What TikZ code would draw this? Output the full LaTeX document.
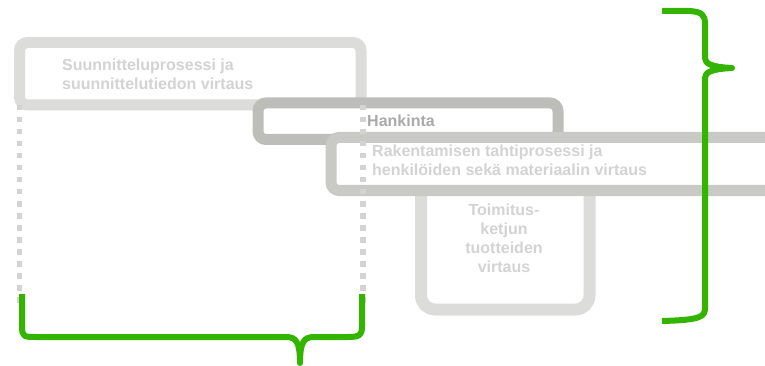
\documentclass[tikz,border=0pt]{standalone}
\usepackage{fontspec}
\setmainfont{Liberation Sans}

\definecolor{lightframe}{HTML}{DCDCDA}
\definecolor{midframe}{HTML}{C9C9C5}
\definecolor{darkframe}{HTML}{BDBDB9}
\definecolor{paletext}{HTML}{D3D3D3}
\definecolor{greytext}{HTML}{A9A9A9}
\definecolor{bracegreen}{HTML}{33B500}

\begin{document}
\begin{tikzpicture}[x=1pt, y=-1pt,
    frame/.style={draw=#1, fill=white, line width=11pt, rounded corners=8pt, inner sep=0pt, outer sep=0pt},
    caption/.style={font=\fontsize{16}{19}\selectfont\bfseries, text=paletext, inner sep=0pt},
    dots/.style={draw=paletext, line width=5.5pt, dash pattern=on 5.5pt off 6.5pt},
    greenbrace/.style={draw=bracegreen, line width=6pt, line join=round}]
    \clip (0,0) rectangle (765,366);

    % The four process frames (the lower ones are drawn first)
    \node[frame=lightframe, minimum width=341.5pt, minimum height=62.5pt] (planning) at (190.25,73.75) {};
    \node[frame=darkframe, minimum width=300pt, minimum height=36.5pt] (procurement) at (408,121.25) {};
    \node[frame=lightframe, line width=12pt, rounded corners=14pt, minimum width=168.5pt, minimum height=144.5pt] (supply) at (505.25,237.25) {}; % top hidden below the next one
    \node[frame=midframe, minimum width=569pt, minimum height=53pt] (construction) at (615.5,164) {};

    % Texts in the frames (base = baseline of the last line)
    \node[caption, align=left, anchor=base west] (planningtext) at (62,90) {Suunnitteluprosessi ja\\suunnittelutiedon virtaus};
    \node[caption, text=greytext, anchor=base west] (procurementtext) at (367,127) {Hankinta};
    \node[caption, align=left, anchor=base west] (constructiontext) at (372,176) {Rakentamisen tahtiprosessi ja\\henkilöiden sekä materiaalin virtaus};
    \node[caption, align=center, anchor=base] (supplytext) at (504,272) {Toimitus-\\ketjun\\tuotteiden\\virtaus};

    % Ends of the braces
    \coordinate (lowleft) at (22,294);
    \coordinate (lowright) at (362,294);
    \coordinate (lowtip) at (300,363);
    \coordinate (sidetop) at (662,11);
    \coordinate (sidebottom) at (662,321);
    \coordinate (sidetip) at (732,68);

    % Dotted guides from the planning frame down to the brace
    \draw[dots] (planning.south west) -- ([yshift=-12pt]planning.south west |- lowleft);
    \draw[dots] ([xshift=2pt]planning.south east) -- ([xshift=2pt,yshift=-12pt]planning.south east |- lowright);

    % Bottom brace
    \draw[greenbrace] (lowleft) -- (22,326) .. controls (22,337) and (24,337) .. (36,337)
        -- (286,337) .. controls (296,337) and (300,342) .. (lowtip)
        .. controls (300,342) and (304,337) .. (314,337)
        -- (348,337) .. controls (360,337) and (362,335) .. (362,326) -- (lowright);

    % Right brace
    \draw[greenbrace] (sidetop) -- (690,11) .. controls (702,12) and (705,15) .. (705,24)
        -- (705,58) .. controls (705,64) and (712,67) .. (sidetip)
        .. controls (712,69) and (705,72) .. (705,78)
        -- (705,308) .. controls (705,317) and (700,320) .. (sidebottom);
\end{tikzpicture}
\end{document}
